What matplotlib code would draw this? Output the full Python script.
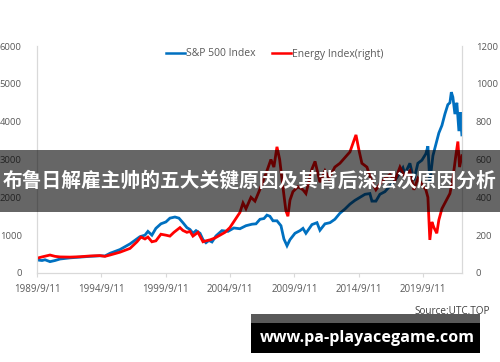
import matplotlib
matplotlib.use("Agg")
import matplotlib.pyplot as plt
from matplotlib.patches import Rectangle
from matplotlib.lines import Line2D

# ---------------- data ----------------
sp_years = [1989.69, 1990.08, 1990.31, 1990.70, 1991.09, 1991.48, 1992.25, 1993.03, 1993.81,
            1994.58, 1994.97, 1995.36, 1996.14, 1996.92, 1997.69, 1998.08, 1998.31, 1998.62,
            1998.93, 1999.32, 1999.71, 2000.02, 2000.41, 2000.72, 2001.03, 2001.34, 2001.58,
            2001.81, 2002.05, 2002.36, 2002.59, 2002.82, 2003.05, 2003.29, 2003.60, 2004.06,
            2004.53, 2004.99, 2005.46, 2005.93, 2006.40, 2006.71, 2007.02, 2007.33, 2007.56,
            2007.79, 2008.03, 2008.34, 2008.65, 2008.88, 2009.12, 2009.35, 2009.74, 2010.13,
            2010.36, 2010.59, 2011.06, 2011.45, 2011.68, 2012.07, 2012.46, 2012.84, 2013.23,
            2013.62, 2014.01, 2014.40, 2014.79, 2015.18, 2015.56, 2015.72, 2016.03, 2016.34,
            2016.73, 2017.12, 2017.51, 2017.90, 2018.13, 2018.28, 2018.67, 2018.98, 2019.29,
            2019.60, 2019.91, 2020.07, 2020.22, 2020.46, 2020.69, 2020.92, 2021.16, 2021.39,
            2021.62, 2021.78, 2021.89, 2022.01, 2022.17, 2022.32, 2022.48, 2022.59, 2022.71]
sp_values = [345, 330, 350, 300, 330, 370, 400, 420, 440,
             455, 450, 520, 620, 770, 960, 1000, 1100, 1000,
             1180, 1300, 1350, 1450, 1480, 1450, 1330, 1200, 1150,
             1050, 1120, 1050, 880, 800, 860, 820, 980, 1120,
             1100, 1190, 1170, 1250, 1290, 1300, 1420, 1440, 1530,
             1500, 1380, 1380, 1250, 900, 720, 880, 1050, 1120,
             1180, 1050, 1280, 1330, 1130, 1300, 1330, 1420, 1580,
             1690, 1820, 1920, 2000, 2080, 2100, 1900, 1900, 2080,
             2150, 2300, 2450, 2650, 2780, 2620, 2900, 2450, 2900,
             2980, 3150, 3350, 2400, 3100, 3400, 3700, 3900, 4200,
             4450, 4500, 4780, 4650, 4200, 4500, 3750, 4250, 3650]

en_years = [1989.69, 1990.08, 1990.70, 1991.09, 1991.48, 1992.25, 1993.03, 1993.81, 1994.58,
            1994.97, 1995.36, 1996.14, 1996.92, 1997.46, 1997.77, 1998.08, 1998.31, 1998.62,
            1998.93, 1999.32, 1999.71, 2000.02, 2000.33, 2000.80, 2001.03, 2001.34, 2001.58,
            2001.81, 2002.20, 2002.59, 2002.82, 2003.13, 2003.52, 2003.91, 2004.30, 2004.68,
            2005.07, 2005.46, 2005.70, 2005.93, 2006.32, 2006.63, 2006.94, 2007.17, 2007.56,
            2007.87, 2008.10, 2008.34, 2008.55, 2008.80, 2009.03, 2009.19, 2009.35, 2009.58,
            2009.97, 2010.36, 2010.59, 2011.06, 2011.30, 2011.68, 2012.07, 2012.38, 2012.84,
            2013.23, 2013.62, 2014.01, 2014.32, 2014.48, 2014.71, 2014.94, 2015.33, 2015.72,
            2016.03, 2016.34, 2016.73, 2017.12, 2017.51, 2017.90, 2018.28, 2018.67, 2018.98,
            2019.29, 2019.60, 2019.91, 2020.07, 2020.22, 2020.38, 2020.54, 2020.76, 2020.92,
            2021.16, 2021.47, 2021.78, 2022.01, 2022.24, 2022.40, 2022.53, 2022.71]
en_values = [78, 85, 95, 88, 85, 84, 86, 90, 92,
             88, 95, 110, 130, 165, 190, 180, 190, 165,
             170, 205, 200, 195, 215, 240, 225, 215, 220,
             195, 215, 165, 170, 175, 185, 200, 215, 240,
             280, 320, 370, 340, 400, 380, 430, 470, 540,
             600, 560, 667, 600, 456, 330, 300, 385, 430,
             456, 440, 420, 550, 590, 480, 540, 500, 560,
             580, 610, 640, 700, 730, 650, 580, 560, 480,
             440, 470, 500, 520, 490, 560, 510, 540, 440,
             500, 470, 440, 400, 175, 270, 240, 210, 280,
             340, 380, 420, 500, 620, 695, 560, 620]

tick_years = [1989.69, 1994.69, 1999.69, 2004.69, 2009.69, 2014.69, 2019.69]
tick_labels = ["1989/9/11", "1994/9/11", "1999/9/11", "2004/9/11",
               "2009/9/11", "2014/9/11", "2019/9/11"]
left_ticks = [0, 1000, 2000, 3000, 4000, 5000, 6000]
right_ticks = [0, 200, 400, 600, 800, 1000, 1200]

series_names = ["S&P 500 Index", "Energy Index(right)"]
title_text = "布鲁日解雇主帅的五大关键原因及其背后深层次原因分析"
source_text = "Source:UTC.TOP"
site_text = "www.pa-playacegame.com"

# ---------------- style ----------------
BLUE = "#0070C0"
RED = "#FF0000"
TICKC = "#595959"
AXC = "#D9D9D9"
FONT = "Open Sans"

W, H = 500, 362
fig = plt.figure(figsize=(W / 100, H / 100), dpi=100)
fig.patch.set_facecolor("white")

x0, x1, ytop, ybot = 37, 462, 46, 273
ax = fig.add_axes([x0 / W, 1 - ybot / H, (x1 - x0) / W, (ybot - ytop) / H])
ax2 = ax.twinx()

ax.plot(sp_years, sp_values, color=BLUE, lw=2.0, solid_joinstyle="miter")
ax2.plot(en_years, en_values, color=RED, lw=2.0, solid_joinstyle="miter")

ax.set_xlim(1989.69, 2022.72)
ax.set_ylim(0, 6000)
ax2.set_ylim(0, 1200)
ax.set_yticks(left_ticks)
ax.set_yticklabels([str(v) for v in left_ticks])
ax2.set_yticks(right_ticks)
ax2.set_yticklabels([str(v) for v in right_ticks])
ax.set_xticks(tick_years)
ax.set_xticklabels(tick_labels)

for a in (ax, ax2):
    for s in a.spines.values():
        s.set_color(AXC)
        s.set_linewidth(0.8)
    a.spines["top"].set_visible(False)
    a.set_facecolor("none")

ax.tick_params(axis="y", length=0, pad=11, labelsize=6.8, labelcolor=TICKC)
ax2.tick_params(axis="y", length=0, pad=10, labelsize=6.8, labelcolor=TICKC)
ax.tick_params(axis="x", length=3, color=AXC, pad=5, labelsize=7.0, labelcolor=TICKC)
for lab in ax.get_xticklabels() + ax.get_yticklabels() + ax2.get_yticklabels():
    lab.set_fontfamily(FONT)

handles = [Line2D([], [], color=BLUE, lw=1.8), Line2D([], [], color=RED, lw=1.8)]
fig.legend(handles, series_names, loc="center", bbox_to_anchor=(0.55, 1 - 54 / H),
           ncol=2, frameon=False, handlelength=1.8, handletextpad=0.1,
           columnspacing=1.6, prop={"family": FONT, "size": 7.5}, labelcolor=TICKC)

# source text
fig.text(490 / W, 1 - 312 / H, source_text, ha="right", va="center",
         fontsize=7.2, color="#404040", family=FONT)

# dark translucent banner with title
fig.add_artist(Rectangle((0, 1 - 212 / H), 1, 62 / H, transform=fig.transFigure,
                         facecolor="black", alpha=0.6, edgecolor="none", zorder=10))
fig.text(0.5, 1 - 181 / H, title_text, ha="center", va="center", color="white",
         fontsize=14.2, fontweight="bold",
         family=["Noto Sans CJK SC", "DejaVu Sans"], zorder=11)

# bottom site banner
fig.add_artist(Rectangle((251 / W, 1 - 323 / H), 229 / W, 9 / H, transform=fig.transFigure,
                         facecolor="black", alpha=0.65, edgecolor="none", zorder=10))
fig.add_artist(Rectangle((251 / W, 1 - 353 / H), 229 / W, 30 / H, transform=fig.transFigure,
                         facecolor="black", edgecolor="none", zorder=10))
fig.text(367 / W, 1 - 338 / H, site_text, ha="center", va="center", color="white",
         fontsize=11.6, fontweight="bold", family=FONT, zorder=11)

fig.savefig("out.png", dpi=100)
